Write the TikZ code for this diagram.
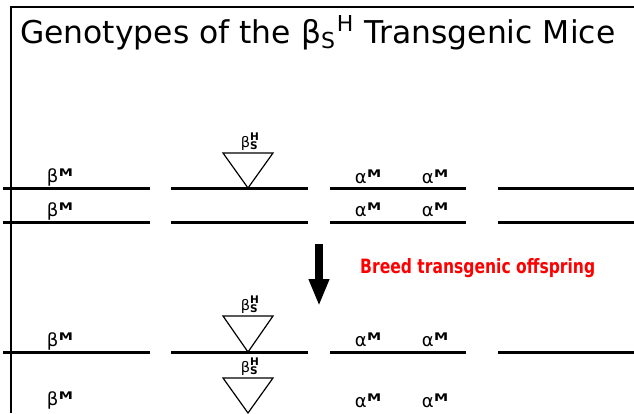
\documentclass[tikz,border=0pt]{standalone}
\usepackage{fontspec}
\usepackage{graphicx}
\setmainfont{DejaVu Sans}
\usetikzlibrary{arrows.meta}
\newcommand{\supM}{\raisebox{0.33em}{\scalebox{1.35}[1]{\fontsize{10.5}{10.5}\selectfont\bfseries M}}}
\newcommand{\bM}{{\fontsize{18}{18}\selectfont β\kern0.5pt\supM}}
\newcommand{\aM}{{\fontsize{18}{18}\selectfont α\kern0.5pt\supM}}
\newcommand{\hsstack}{\raisebox{-0.2em}{\fontsize{10.5}{10.5}\selectfont\bfseries\setlength{\tabcolsep}{0pt}\renewcommand{\arraystretch}{0.62}\begin{tabular}[b]{l}H\\S\end{tabular}}}
\newcommand{\bSH}{{\fontsize{14.5}{14.5}\selectfont β\hsstack}}
\begin{document}
\begin{tikzpicture}[x=1pt,y=-1pt,
  chrom/.style={line width=3pt},
  frame/.style={line width=1.5pt},
  tri/.style={line width=1.2pt},
  lab/.style={inner sep=0pt, anchor=base},
  title/.style={inner sep=0pt, anchor=base west},
  note/.style={inner sep=0pt, anchor=base west, text=red},
  bigarrow/.style={line width=8pt, -{Triangle[width=19pt,length=27pt]}}]
\useasboundingbox (0,0) rectangle (634,413);
\fill[white] (0,0) rectangle (634,413);
% frame
\coordinate (fl) at (11,413);
\coordinate (ftl) at (11,7);
\coordinate (ftr) at (634,7);
\draw[frame] (fl) -- (ftl) -- (ftr);
% title
\node[title] (title) at (20,43) {\resizebox{595pt}{!}{Genotypes of the β\textsubscript{S}\textsuperscript{H} Transgenic Mice}};
% chromosome rows
\foreach \y/\n in {188/a,222/b,352/c}{
  \draw[chrom] (3,\y) -- (150,\y);
  \draw[chrom] (171,\y) -- (308,\y);
  \draw[chrom] (330,\y) -- (466,\y);
  \draw[chrom] (498,\y) -- (634,\y);
}
% triangles
\draw[tri] (223,153) -- (273,153) -- (248,188) -- cycle;
\draw[tri] (223,316) -- (273,316) -- (248,352) -- cycle;
\draw[tri] (223,378) -- (273,378) -- (248,413) -- cycle;
% labels
\node[lab] (b1) at (60,182) {\bM};
\node[lab] (b2) at (60,216) {\bM};
\node[lab] (b3) at (60,346) {\bM};
\node[lab] (b4) at (60,405) {\bM};
\node[lab] (a1) at (368,183) {\aM};
\node[lab] (a2) at (435,183) {\aM};
\node[lab] (a3) at (368,216) {\aM};
\node[lab] (a4) at (435,216) {\aM};
\node[lab] (a5) at (368,346) {\aM};
\node[lab] (a6) at (435,346) {\aM};
\node[lab] (a7) at (368,407) {\aM};
\node[lab] (a8) at (435,407) {\aM};
\node[lab] (t1) at (250,147) {\bSH};
\node[lab] (t2) at (250,310) {\bSH};
\node[lab] (t3) at (250,372) {\bSH};
% arrow
\coordinate (ar1) at (319,244);
\coordinate (ar2) at (319,306);
\draw[bigarrow] (ar1) -- (ar2);
\node[note] (note) at (360,273) {\resizebox{235pt}{15pt}{\bfseries Breed transgenic offspring}};
\end{tikzpicture}
\end{document}
